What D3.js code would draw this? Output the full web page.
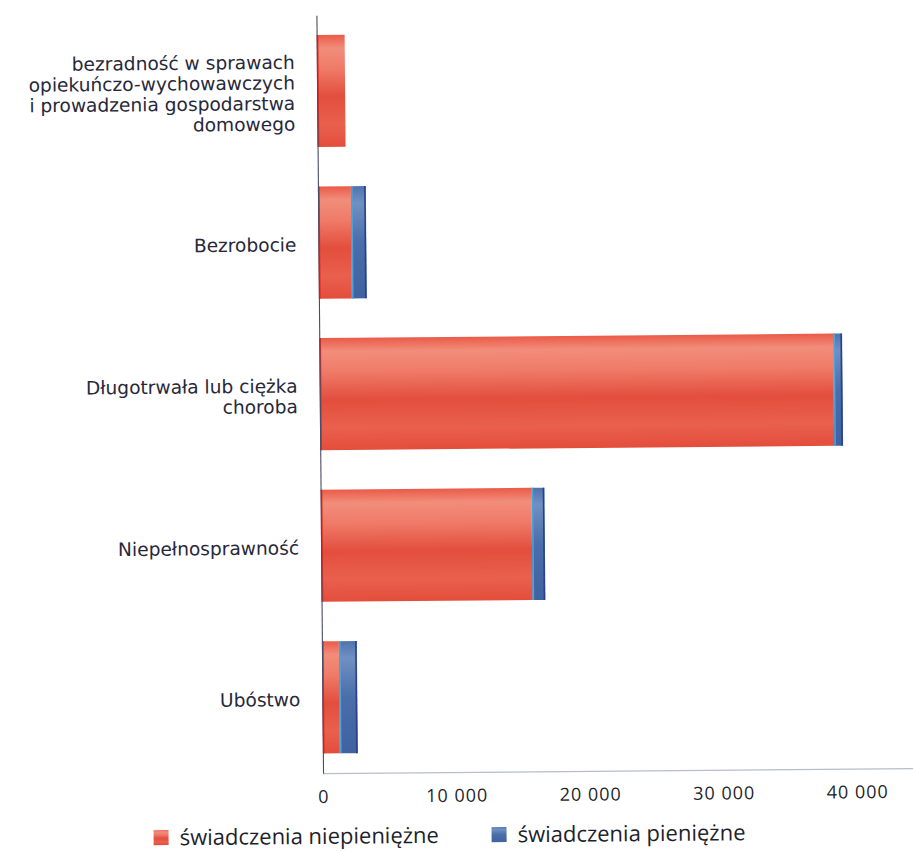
<!DOCTYPE html>
<html>
<head>
<meta charset="utf-8">
<script src="https://cdn.jsdelivr.net/npm/d3@7"></script>
<style>
    body { margin: 0; background: #fff; }
    svg { display: block; }
</style>
</head>
<body>
<div id="root"></div>
<script>
// categories, top to bottom
const categories = [
    "bezradność w sprawach opiekuńczo-wychowawczych i prowadzenia gospodarstwa domowego",
    "Bezrobocie",
    "Długotrwała lub ciężka choroba",
    "Niepełnosprawność",
    "Ubóstwo"
];
const labelLines = [
    ["bezradność w sprawach", "opiekuńczo-wychowawczych", "i prowadzenia gospodarstwa", "domowego"],
    ["Bezrobocie"],
    ["Długotrwała lub ciężka", "choroba"],
    ["Niepełnosprawność"],
    ["Ubóstwo"]
];
const niepieniezne = [2100, 2470, 38500, 15800, 1270];
const pieniezne = [0, 1120, 670, 970, 1350];
const xTicks = [0, 10000, 20000, 30000, 40000];
const seriesNames = ["świadczenia niepieniężne", "świadczenia pieniężne"];

const width = 913, height = 851;
const margin = {top: 14, left: 320, bottom: 772};

const rows = categories.map((c, i) => ({cat: c, a: niepieniezne[i], b: pieniezne[i]}));
const stacked = d3.stack().keys(["a", "b"])(rows);

const svg = d3.select("#root").append("svg")
    .attr("width", width)
    .attr("height", height);

// gradients
const defs = svg.append("defs");
const redGrad = defs.append("linearGradient").attr("id", "gRed")
    .attr("x1", 0).attr("y1", 0).attr("x2", 0).attr("y2", 1);
[[0, "#ea5b48"], [0.12, "#f28d7b"], [0.3, "#ef7b68"], [0.55, "#e34e3d"], [0.8, "#e9604d"], [1, "#e44d3c"]]
    .forEach(s => redGrad.append("stop").attr("offset", s[0]).attr("stop-color", s[1]));
const blueGrad = defs.append("linearGradient").attr("id", "gBlue")
    .attr("x1", 0).attr("y1", 0).attr("x2", 0).attr("y2", 1);
[[0, "#4d73ad"], [0.15, "#7190c2"], [0.5, "#4a6eaa"], [1, "#3f62a0"]]
    .forEach(s => blueGrad.append("stop").attr("offset", s[0]).attr("stop-color", s[1]));

// the scan is slightly tilted
const g = svg.append("g").attr("transform", "rotate(-0.5, 456, 425)");

const x = d3.scaleLinear()
    .domain([0, 45000])
    .range([margin.left, margin.left + 45000 * 133.5 / 10000]);

const y = d3.scaleBand()
    .domain(categories)
    .range([margin.top, margin.bottom])
    .paddingInner(0.26)
    .paddingOuter(0.13);

// bars
const fills = ["url(#gRed)", "url(#gBlue)"];
const edges = ["#e8261c", "#4aa3de"];
stacked.forEach((layer, k) => {
    const sg = g.append("g").attr("class", "series-" + k);
    const data = layer.filter(d => d[1] - d[0] > 0);
    sg.selectAll("rect")
        .data(data)
        .enter()
        .append("rect")
            .attr("x", d => x(d[0]))
            .attr("y", d => y(d.data.cat))
            .attr("width", d => x(d[1]) - x(d[0]))
            .attr("height", y.bandwidth())
            .attr("fill", fills[k]);
    // left edge line
    sg.selectAll("line.edge")
        .data(data)
        .enter()
        .append("line")
            .attr("class", "edge")
            .attr("x1", d => x(d[0]) + 1).attr("x2", d => x(d[0]) + 1)
            .attr("y1", d => y(d.data.cat)).attr("y2", d => y(d.data.cat) + y.bandwidth())
            .attr("stroke", edges[k])
            .attr("stroke-width", 1.5);
    if (k === 1) {
        sg.selectAll("line.right")
            .data(data)
            .enter()
            .append("line")
                .attr("class", "right")
                .attr("x1", d => x(d[1]) - 1).attr("x2", d => x(d[1]) - 1)
                .attr("y1", d => y(d.data.cat)).attr("y2", d => y(d.data.cat) + y.bandwidth())
                .attr("stroke", "#2a3f8c")
                .attr("stroke-width", 1.5);
    }
});

// x axis
const fmt = d3.formatLocale({decimal: ",", thousands: "\u00a0", grouping: [3], currency: ["", ""]}).format(",d");
const xAxis = d3.axisBottom(x)
    .tickValues(xTicks)
    .tickFormat(fmt)
    .tickSize(0)
    .tickPadding(17);
const xg = g.append("g")
    .attr("transform", `translate(0, ${margin.bottom})`)
    .call(xAxis);
xg.select(".domain").attr("stroke", "#b9bccb").attr("stroke-width", 1.2);
xg.selectAll("text")
    .attr("fill", "#1f1f2b")
    .style("font-family", "'Open Sans', sans-serif")
    .style("font-size", "18px")
    .style("letter-spacing", "1px");

// y axis
const yAxis = d3.axisLeft(y).tickSize(0).tickPadding(20).tickFormat("");
const yg = g.append("g")
    .attr("transform", `translate(${margin.left}, 0)`)
    .call(yAxis);
yg.select(".domain").attr("stroke", "#4a4d66").attr("stroke-width", 1.1);

const lineH = 20.6;
yg.selectAll(".tick").each(function(d) {
    const i = categories.indexOf(d);
    const lines = labelLines[i];
    const t = d3.select(this).select("text")
        .attr("x", -22)
        .attr("dy", null)
        .attr("fill", "#27283a")
        .style("font-family", "'DejaVu Sans', sans-serif")
        .style("font-size", "18.6px")
        .attr("text-anchor", "end");
    const y0 = -(lines.length - 1) * lineH / 2 + 2;
    lines.forEach((ln, j) => {
        t.append("tspan")
            .attr("x", -22)
            .attr("y", y0 + j * lineH)
            .attr("dy", "0.35em")
            .text(ln);
    });
});

// legend
const legend = g.append("g").attr("class", "legend");
const legX = [150, 488];
seriesNames.forEach((name, k) => {
    const lg = legend.append("g").attr("transform", `translate(${legX[k]}, 835)`);
    lg.append("rect")
        .attr("x", 0).attr("y", -7.5)
        .attr("width", 15).attr("height", 15)
        .attr("fill", fills[k]);
    lg.append("text")
        .attr("x", 26)
        .attr("dy", "0.35em")
        .attr("fill", "#1f1f2b")
        .style("font-family", "'Open Sans', sans-serif")
        .style("font-size", "22px")
        .text(name);
});
</script>
</body>
</html>
